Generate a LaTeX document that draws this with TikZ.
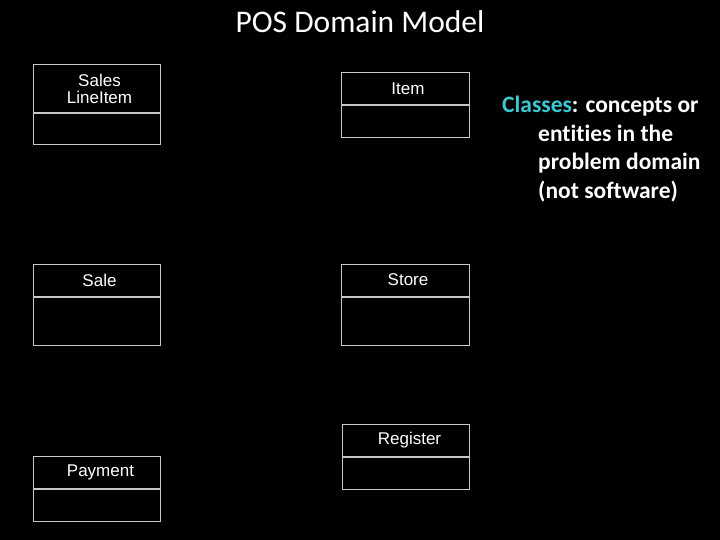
\documentclass[tikz,border=0pt]{standalone}
\usepackage{fontspec}
\setmainfont{Carlito}[Ligatures=NoCommon]
\newfontfamily\umlfont{Liberation Sans}
\usepackage{xcolor}
\usepackage{tikz}
\usetikzlibrary{positioning}

\definecolor{boxgray}{RGB}{200,200,200}
\definecolor{classcyan}{RGB}{60,200,210}

\begin{document}
\begin{tikzpicture}[
  x=1pt, y=-1pt,
  classname/.style={draw=boxgray, line width=1pt, text=white, minimum width=127pt, minimum height=32pt,
    inner sep=0pt, align=center, font=\umlfont\fontsize{17}{16.5}\selectfont},
  classattr/.style={draw=boxgray, line width=1pt, minimum width=127pt, minimum height=#1, inner sep=0pt},
  node distance=0pt
]
\fill[black] (0,0) rectangle (720,540);
\useasboundingbox (0,0) rectangle (720,540);

\node[text=white, font=\fontsize{31.5}{34}\selectfont, anchor=base] (title) at (360,33) {POS Domain Model};

\node[classname, minimum height=48pt] (sli) at (96.5,89) {\hspace*{6pt}Sales\\\hspace*{6pt}LineItem};
\node[classattr=31pt, below=of sli] (sliattr) {};

\node[classname, minimum width=128pt] (item) at (405,88.5) {\hspace*{6pt}Item};
\node[classattr=32pt, minimum width=128pt, below=of item] (itemattr) {};

\node[classname] (sale) at (96.5,280) {\hspace*{6pt}Sale};
\node[classattr=48pt, below=of sale] (saleattr) {};

\node[classname, minimum width=128pt] (store) at (405,280) {\hspace*{6pt}Store};
\node[classattr=48pt, minimum width=128pt, below=of store] (storeattr) {};

\node[classname] (reg) at (405.5,440) {\hspace*{8pt}Register};
\node[classattr=32pt, below=of reg] (regattr) {};

\node[classname] (pay) at (96.5,472) {\hspace*{8pt}Payment};
\node[classattr=32pt, below=of pay] (payattr) {};

% note on the right
\node[text=white, anchor=north west, inner sep=0pt, align=left,
  font=\bfseries\fontsize{23.5}{28.5}\selectfont] (note) at (502,96)
  {\textcolor{classcyan}{Classes}: concepts or\\
   \hspace*{36pt}entities in the\\
   \hspace*{36pt}problem domain\\
   \hspace*{36pt}(not software)};
\end{tikzpicture}
\end{document}
